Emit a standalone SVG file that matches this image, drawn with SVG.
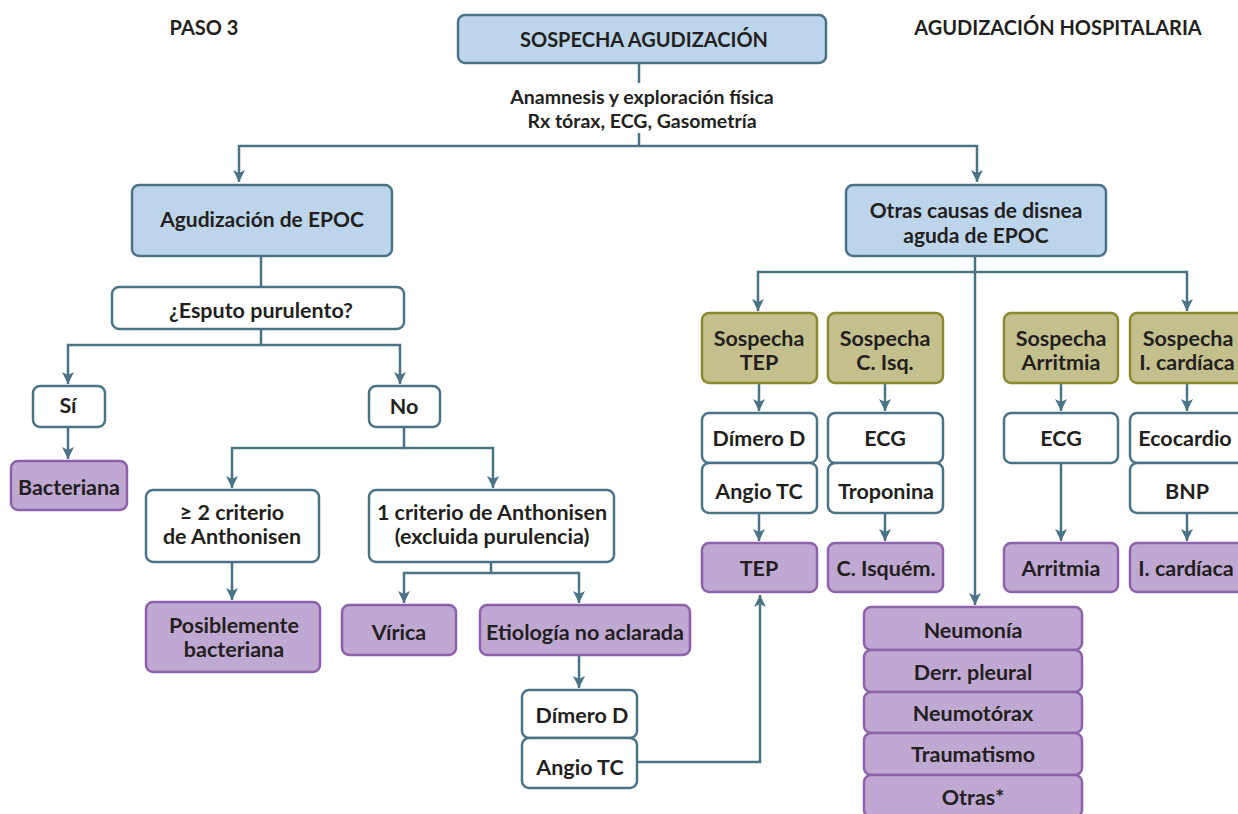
<svg xmlns="http://www.w3.org/2000/svg" width="1238" height="814" viewBox="0 0 1238 814">
<style>
text{font-family:Lato,"Liberation Sans",sans-serif;font-weight:bold;fill:#231f20;text-anchor:middle;dominant-baseline:central;font-size:21.5px}
.t{font-size:20px}
.a{font-size:19.5px}
.l{font-size:21px}
.b{fill:#bdd5eb;stroke:#4b7388;stroke-width:2.5}
.w{fill:#ffffff;stroke:#4b7388;stroke-width:2.5}
.p{fill:#bfa8d1;stroke:#8e62aa;stroke-width:2.5}
.o{fill:#c3c08d;stroke:#8b8a33;stroke-width:2.5}
.c{fill:none;stroke:#4b7388;stroke-width:2.5}
</style>
<defs>
<marker id="ar" viewBox="0 0 12 12" refX="12" refY="6" markerWidth="12" markerHeight="12" markerUnits="userSpaceOnUse" orient="auto">
<path d="M0,0 L12,6 L0,12 L3,6 z" fill="#4b7388"/>
</marker>
</defs>
<rect width="1238" height="814" fill="#ffffff"/>
<text class="t" x="204" y="27">PASO 3</text>
<text class="t" x="1058" y="27">AGUDIZACIÓN HOSPITALARIA</text>
<g id="connectors">
<path class="c" d="M639,64 V83"/>
<path class="c" d="M639,133 V146"/>
<path class="c" d="M639,146 H239 V182" marker-end="url(#ar)"/>
<path class="c" d="M639,146 H977 V182" marker-end="url(#ar)"/>
<path class="c" d="M261,256 V287"/>
<path class="c" d="M261,329 V345 H68 V384" marker-end="url(#ar)"/>
<path class="c" d="M261,345 H400 V384" marker-end="url(#ar)"/>
<path class="c" d="M68,427 V459" marker-end="url(#ar)"/>
<path class="c" d="M404,427 V448 H232 V488" marker-end="url(#ar)"/>
<path class="c" d="M404,448 H493 V488" marker-end="url(#ar)"/>
<path class="c" d="M232,562 V600" marker-end="url(#ar)"/>
<path class="c" d="M491,562 V573 H404 V603" marker-end="url(#ar)"/>
<path class="c" d="M491,573 H579 V603" marker-end="url(#ar)"/>
<path class="c" d="M579,655 V688" marker-end="url(#ar)"/>
<path class="c" d="M637,762 H760 V595" marker-end="url(#ar)"/>
<path class="c" d="M975,256 V272 H758 V311" marker-end="url(#ar)"/>
<path class="c" d="M975,272 H1187 V311" marker-end="url(#ar)"/>
<path class="c" d="M975,272 V605" marker-end="url(#ar)"/>
<path class="c" d="M759,383 V411" marker-end="url(#ar)"/>
<path class="c" d="M885,383 V411" marker-end="url(#ar)"/>
<path class="c" d="M1061,383 V411" marker-end="url(#ar)"/>
<path class="c" d="M1187,383 V411" marker-end="url(#ar)"/>
<path class="c" d="M759,513 V541" marker-end="url(#ar)"/>
<path class="c" d="M885,513 V541" marker-end="url(#ar)"/>
<path class="c" d="M1061,463 V541" marker-end="url(#ar)"/>
<path class="c" d="M1187,513 V541" marker-end="url(#ar)"/>
</g>
<g id="n-sospecha"><rect class="b" x="458" y="15" width="368" height="48" rx="7"/><text class="t" x="644" y="39">SOSPECHA AGUDIZACIÓN</text></g>
<g id="n-anamnesis"><text class="a" x="642" y="96">Anamnesis y exploración física</text><text class="a" x="642" y="120">Rx tórax, ECG, Gasometría</text></g>
<g id="n-agud"><rect class="b" x="132" y="185" width="260" height="71" rx="7"/><text class="l" x="262" y="218">Agudización de EPOC</text></g>
<g id="n-otras"><rect class="b" x="846" y="185" width="260" height="71" rx="7"/><text class="l" x="976" y="209">Otras causas de disnea</text><text class="l" x="976" y="234">aguda  de EPOC</text></g>
<g id="n-esputo"><rect class="w" x="112" y="287" width="292" height="42" rx="7"/><text x="261" y="310">¿Esputo purulento?</text></g>
<g id="n-si"><rect class="w" x="33" y="386" width="72" height="41" rx="7"/><text x="68" y="405">Sí</text></g>
<g id="n-no"><rect class="w" x="369" y="386" width="71" height="41" rx="7"/><text x="404" y="406">No</text></g>
<g id="n-bacteriana"><rect class="p" x="11" y="461" width="116" height="49" rx="7"/><text x="69" y="487">Bacteriana</text></g>
<g id="n-ge2"><rect class="w" x="146" y="490" width="173" height="72" rx="7"/><text x="232" y="512">≥ 2 criterio</text><text x="232" y="536">de Anthonisen</text></g>
<g id="n-uno"><rect class="w" x="369" y="490" width="245" height="72" rx="7"/><text x="492" y="512">1 criterio de Anthonisen</text><text x="492" y="536">(excluida purulencia)</text></g>
<g id="n-posib"><rect class="p" x="146" y="602" width="174" height="70" rx="7"/><text x="234" y="625">Posiblemente</text><text x="234" y="649">bacteriana</text></g>
<g id="n-virica"><rect class="p" x="342" y="605" width="114" height="50" rx="7"/><text x="399" y="632">Vírica</text></g>
<g id="n-etiol"><rect class="p" x="480" y="605" width="210" height="50" rx="7"/><text x="585" y="632">Etiología no aclarada</text></g>
<g id="n-dimero2"><rect class="w" x="522" y="690" width="115" height="48" rx="7"/><text x="582" y="715">Dímero D</text></g>
<g id="n-angio2"><rect class="w" x="522" y="738" width="115" height="50" rx="7"/><text x="580" y="767">Angio TC</text></g>
<g id="n-s-tep"><rect class="o" x="702" y="313" width="115" height="70" rx="7"/><text x="759" y="338">Sospecha</text><text x="759" y="362">TEP</text></g>
<g id="n-s-cisq"><rect class="o" x="828" y="313" width="115" height="70" rx="7"/><text x="885" y="338">Sospecha</text><text x="885" y="362">C. Isq.</text></g>
<g id="n-s-arr"><rect class="o" x="1004" y="313" width="114" height="70" rx="7"/><text x="1061" y="338">Sospecha</text><text x="1061" y="362">Arritmia</text></g>
<g id="n-s-ic"><rect class="o" x="1130" y="313" width="118" height="70" rx="7"/><text x="1188" y="338">Sospecha</text><text x="1187" y="362">I. cardíaca</text></g>
<g id="n-dimero1"><rect class="w" x="702" y="413" width="115" height="50" rx="7"/><text x="759" y="438">Dímero D</text></g>
<g id="n-ecg1"><rect class="w" x="828" y="413" width="115" height="50" rx="7"/><text x="885" y="438">ECG</text></g>
<g id="n-ecg2"><rect class="w" x="1004" y="413" width="114" height="50" rx="7"/><text x="1061" y="438">ECG</text></g>
<g id="n-eco"><rect class="w" x="1130" y="413" width="118" height="50" rx="7"/><text x="1185" y="438">Ecocardio</text></g>
<g id="n-angio1"><rect class="w" x="702" y="463" width="115" height="50" rx="7"/><text x="759" y="491">Angio TC</text></g>
<g id="n-tropo"><rect class="w" x="828" y="463" width="115" height="50" rx="7"/><text x="886" y="491">Troponina</text></g>
<g id="n-bnp"><rect class="w" x="1130" y="463" width="118" height="50" rx="7"/><text x="1187" y="491">BNP</text></g>
<g id="n-tep"><rect class="p" x="702" y="543" width="115" height="49" rx="7"/><text x="759" y="568">TEP</text></g>
<g id="n-cisquem"><rect class="p" x="828" y="543" width="115" height="49" rx="7"/><text x="886" y="568">C. Isquém.</text></g>
<g id="n-arritmia"><rect class="p" x="1004" y="543" width="114" height="49" rx="7"/><text x="1061" y="568">Arritmia</text></g>
<g id="n-icard"><rect class="p" x="1130" y="543" width="118" height="49" rx="7"/><text x="1186" y="568">I. cardíaca</text></g>
<g id="n-neumonia"><rect class="p" x="864" y="607" width="218" height="43" rx="7"/><text x="973" y="630">Neumonía</text></g>
<g id="n-derr"><rect class="p" x="864" y="650" width="218" height="42" rx="7"/><text x="973" y="672">Derr. pleural</text></g>
<g id="n-neumot"><rect class="p" x="864" y="692" width="218" height="41" rx="7"/><text x="973" y="713">Neumotórax</text></g>
<g id="n-trauma"><rect class="p" x="864" y="733" width="218" height="42" rx="7"/><text x="973" y="754">Traumatismo</text></g>
<g id="n-otras2"><rect class="p" x="864" y="775" width="218" height="42" rx="7"/><text x="973" y="797">Otras*</text></g>
</svg>
